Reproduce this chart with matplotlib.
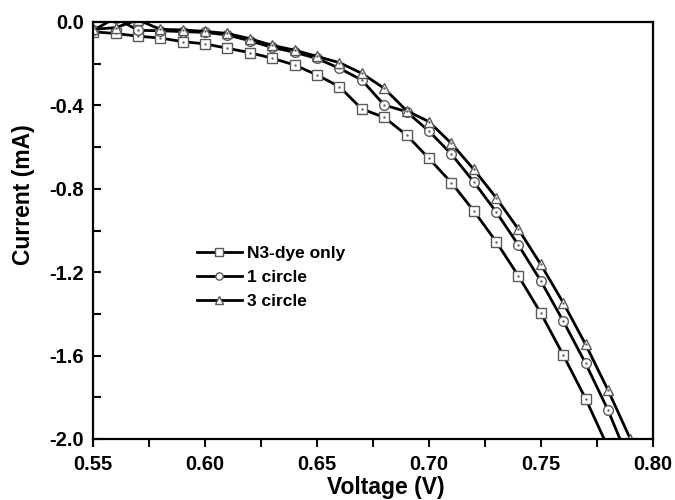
# I-V curves: N3 dye vs. circle samples
import numpy as np
import matplotlib.pyplot as plt
from matplotlib.ticker import MultipleLocator

plt.rcParams['font.family'] = ['Liberation Sans', 'DejaVu Sans']
plt.rcParams['font.weight'] = 'bold'

# voltage (V) and current (mA)
v_n3 = [0.55, 0.56, 0.57, 0.58, 0.59, 0.60, 0.61, 0.62, 0.63, 0.64, 0.65, 0.66,
        0.67, 0.68, 0.69, 0.70, 0.71, 0.72, 0.73, 0.74, 0.75, 0.76, 0.77, 0.78]
i_n3 = [-0.047, -0.055, -0.068, -0.077, -0.094, -0.105, -0.126, -0.147, -0.174, -0.206, -0.254, -0.31,
        -0.417, -0.457, -0.542, -0.654, -0.77, -0.905, -1.053, -1.218, -1.396, -1.597, -1.806, -2.04]

v_c1 = [0.55, 0.56, 0.57, 0.58, 0.59, 0.60, 0.61, 0.62, 0.63, 0.64, 0.65, 0.66, 0.67,
        0.68, 0.69, 0.70, 0.71, 0.72, 0.73, 0.74, 0.75, 0.76, 0.77, 0.78, 0.79]
i_c1 = [-0.04, 0.02, -0.04, -0.042, -0.046, -0.05, -0.062, -0.09, -0.122, -0.145, -0.175, -0.222, -0.278,
        -0.398, -0.43, -0.523, -0.633, -0.766, -0.91, -1.07, -1.242, -1.434, -1.637, -1.861, -2.12]

v_c3 = [0.55, 0.56, 0.57, 0.58, 0.59, 0.60, 0.61, 0.62, 0.63, 0.64, 0.65, 0.66, 0.67,
        0.68, 0.69, 0.70, 0.71, 0.72, 0.73, 0.74, 0.75, 0.76, 0.77, 0.78, 0.79]
i_c3 = [-0.035, -0.027, 0.01, -0.035, -0.038, -0.045, -0.055, -0.08, -0.112, -0.135, -0.165, -0.195, -0.246,
        -0.318, -0.425, -0.478, -0.582, -0.706, -0.842, -0.994, -1.163, -1.346, -1.546, -1.765, -2.0]

labels = ['N3-dye only', '1 circle', '3 circle']
markers = ['s', 'o', '^']

fig = plt.figure(figsize=(6.75, 5.0), dpi=100)
ax = fig.add_axes([0.138, 0.122, 0.829, 0.834])

mk = dict(color='black', lw=2.0, ms=7, mfc='white', mec='#5a5a5a', mew=1.0)
for v, i, m, lab in zip([v_n3, v_c1, v_c3], [i_n3, i_c1, i_c3], markers, labels):
    ax.plot(v, i, marker=m, label=lab, **mk)
    # small dot in the middle of each open marker
    ax.plot(v, i, ls='none', marker='.', ms=1.5, color='#666666')

ax.set_xlim(0.55, 0.80)
ax.set_ylim(-2.0, 0.0)
ax.xaxis.set_major_locator(MultipleLocator(0.05))
ax.xaxis.set_minor_locator(MultipleLocator(0.025))
ax.yaxis.set_major_locator(MultipleLocator(0.4))
ax.yaxis.set_minor_locator(MultipleLocator(0.2))
ax.xaxis.set_major_formatter(plt.FormatStrFormatter('%.2f'))
ax.yaxis.set_major_formatter(plt.FormatStrFormatter('%.1f'))

ax.tick_params(axis='x', which='both', direction='out', length=5.5, width=1.5, labelsize=14.5, pad=6)
ax.tick_params(axis='y', which='both', direction='in', length=6, width=1.5, labelsize=14.5, pad=6.5)
for s in ax.spines.values():
    s.set_linewidth(1.6)

ax.set_xlabel('Voltage (V)', fontsize=16.5, fontweight='bold', va='top')
ax.set_ylabel('Current (mA)', fontsize=16.5, fontweight='bold')
ax.xaxis.set_label_coords(0.523, -0.088)
ax.yaxis.set_label_coords(-0.104, 0.585)

ax.legend(loc='upper left', bbox_to_anchor=(0.185, 0.463), frameon=False,
          prop={'size': 12.5, 'weight': 'bold'}, markerscale=0.75, handlelength=2.6,
          handletextpad=0.3, labelspacing=0.5, borderpad=0, borderaxespad=0)

fig.savefig('out.png', dpi=100)
